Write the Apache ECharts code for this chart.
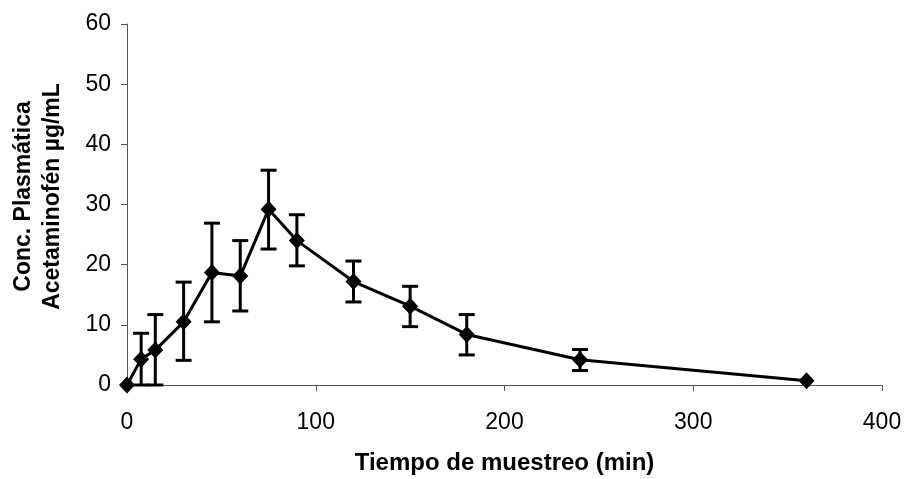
<!DOCTYPE html>
<html><head><meta charset="utf-8">
<script src="https://cdn.jsdelivr.net/npm/echarts@6/dist/echarts.min.js"></script>
<style>html,body{margin:0;padding:0;background:#fff}#c{width:904px;height:479px}</style>
</head><body><div id="c"></div>
<script>
const times = [0, 7.5, 15, 30, 45, 60, 75, 90, 120, 150, 180, 240, 360];
const conc = [0, 4.3, 5.8, 10.5, 18.7, 18.1, 29.2, 24.0, 17.2, 13.1, 8.4, 4.2, 0.7];
const errLow = [0, 0, 0, 4.1, 10.5, 12.3, 22.6, 19.8, 13.8, 9.7, 5.0, 2.4, 0.7];
const errHigh = [0, 8.6, 11.7, 17.1, 26.9, 24.0, 35.7, 28.3, 20.6, 16.4, 11.7, 5.9, 0.7];
const xTitle = 'Tiempo de muestreo (min)';
const yTitle = 'Conc. Plasmática\nAcetaminofén µg/mL';

const chart = echarts.init(document.getElementById('c'));
const font = 'Liberation Sans, Arial, sans-serif';
chart.setOption({
  animation: false,
  grid: {left: 127, right: 22, top: 24, bottom: 94, outerBoundsMode: 'none', containLabel: false},
  xAxis: {
    type: 'value', min: 0, max: 400, interval: 100,
    name: xTitle, nameLocation: 'middle', nameGap: 66,
    nameTextStyle: {fontFamily: font, fontSize: 24, fontWeight: 'bold', color: '#000'},
    axisLine: {lineStyle: {color: '#555', width: 1}},
    axisTick: {show: true, length: 6, lineStyle: {color: '#555'}},
    axisLabel: {fontFamily: font, fontSize: 23, color: '#000', margin: 26},
    splitLine: {show: false}
  },
  yAxis: {
    type: 'value', min: 0, max: 60, interval: 10,
    name: yTitle, nameLocation: 'middle', nameGap: 60,
    nameTextStyle: {fontFamily: font, fontSize: 23, fontWeight: 'bold', color: '#000', lineHeight: 29, padding: [0, 0, 0, 16]},
    axisLine: {show: true, lineStyle: {color: '#555', width: 1}},
    axisTick: {show: true, length: 6, lineStyle: {color: '#555'}},
    axisLabel: {fontFamily: font, fontSize: 23, color: '#000', margin: 16},
    splitLine: {show: false}
  },
  series: [
    {
      type: 'custom',
      data: times.map((t, i) => [t, errLow[i], errHigh[i]]),
      renderItem: function (params, api) {
        const x = api.value(0);
        const lo = api.coord([x, api.value(1)]);
        const hi = api.coord([x, api.value(2)]);
        if (Math.abs(lo[1] - hi[1]) < 2) return {type: 'group', children: []};
        const w = 8;
        const st = {stroke: '#000', lineWidth: 3};
        return {type: 'group', children: [
          {type: 'line', shape: {x1: hi[0], y1: hi[1], x2: lo[0], y2: lo[1]}, style: st},
          {type: 'line', shape: {x1: hi[0] - w, y1: hi[1], x2: hi[0] + w, y2: hi[1]}, style: st},
          {type: 'line', shape: {x1: lo[0] - w, y1: lo[1], x2: lo[0] + w, y2: lo[1]}, style: st}
        ]};
      },
      z: 3
    },
    {
      type: 'line',
      data: times.map((t, i) => [t, conc[i]]),
      symbol: 'diamond', symbolSize: [16, 17],
      itemStyle: {color: '#000'},
      lineStyle: {color: '#000', width: 3},
      z: 4
    }
  ]
});
</script></body></html>
